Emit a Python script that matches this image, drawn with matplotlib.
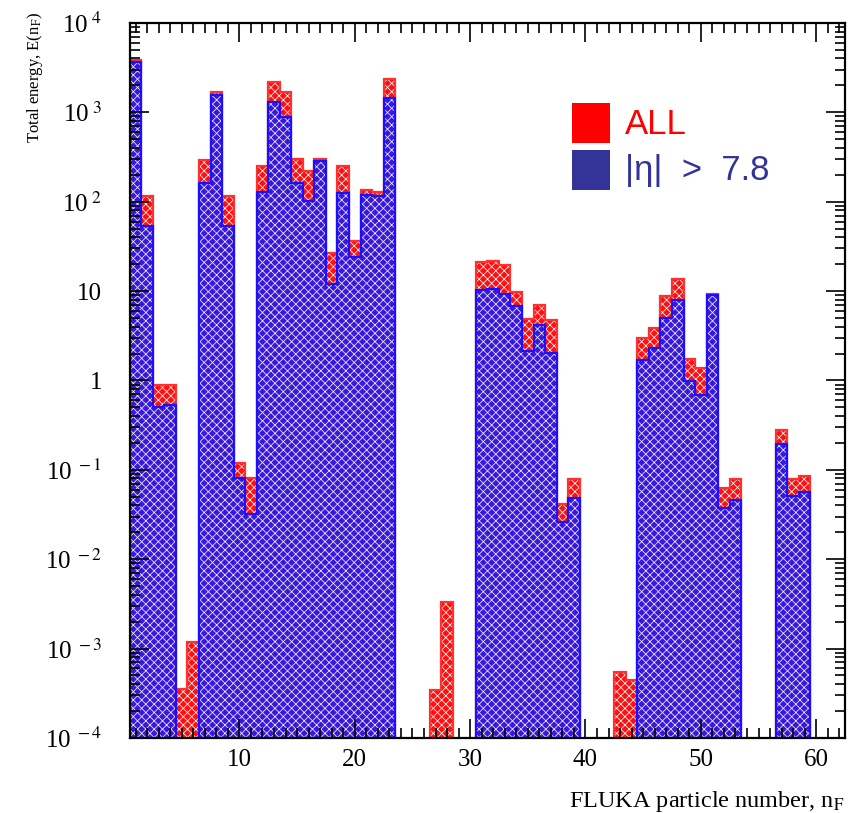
import numpy as np
import matplotlib.pyplot as plt
from matplotlib.patches import Rectangle
from matplotlib.ticker import FixedLocator, MultipleLocator, LogLocator, NullFormatter

plt.rcParams['hatch.linewidth'] = 0.55
plt.rcParams['mathtext.fontset'] = 'stix'

# FLUKA particle number, one bin per id (1..62)
n_f = np.arange(1, 63)

# total energy, all particles
e_all = np.array([
    3800, 115, 0.9, 0.9, 3.5e-4, 1.2e-3, 290, 1680, 115, 0.12,
    0.08, 250, 2170, 1680, 300, 220, 300, 26.7, 250, 36,
    136, 128, 2370, 0, 0, 0, 3.4e-4, 3.3e-3, 0, 0,
    20.9, 21.6, 19.5, 9.8, 4.9, 7.0, 4.8, 0.041, 0.078, 0,
    0, 0, 5.4e-4, 4.4e-4, 3.0, 3.9, 8.8, 13.5, 1.73, 1.39,
    9.2, 0.062, 0.078, 0, 0, 0, 0.277, 0.078, 0.085, 0,
    0, 0])

# total energy, |eta| > 7.8
e_eta = np.array([
    3700, 54, 0.5, 0.53, 0, 0, 160, 1570, 54, 0.08,
    0.032, 130, 1300, 875, 162, 103, 282, 12, 125, 24,
    120, 115, 1440, 0, 0, 0, 0, 0, 0, 0,
    10.2, 10.5, 9.2, 6.8, 2.14, 4.15, 2.05, 0.026, 0.048, 0,
    0, 0, 0, 0, 1.68, 2.33, 5.0, 7.9, 0.98, 0.68,
    9.0, 0.037, 0.046, 0, 0, 0, 0.193, 0.051, 0.057, 0,
    0, 0])

ytick_vals = [1e-4, 1e-3, 1e-2, 1e-1, 1, 10, 1e2, 1e3, 1e4]
ytick_labels = [r'10$^{\ -4}$', r'10$^{\ -3}$', r'10$^{\ -2}$', r'10$^{\ -1}$',
                '1', '10', r'10$^{\ 2}$', r'10$^{\ 3}$', r'10$^{\ 4}$']

fig = plt.figure(figsize=(8.54, 8.13), dpi=100)
ax = fig.add_axes([0.152, 0.0923, 0.8375, 0.8795])
ax.set_yscale('log', nonpositive='clip')

edges = np.append(n_f - 0.5, n_f[-1] + 0.5)
base = 1e-5

def draw_hist(vals, face, line, alpha):
    m = vals > 0
    ax.bar(n_f[m], vals[m] - base, width=1.0, bottom=base, facecolor=face,
           edgecolor='white', lw=0, hatch='xxxx', alpha=alpha)
    ax.stairs(np.where(m, vals, 1e-7), edges, color=line, lw=1.6, baseline=1e-7)

draw_hist(e_all, '#ff1010', '#ff3030', 1.0)
draw_hist(e_eta, '#2418f0', '#1a10ff', 0.9)

ax.set_xlim(0.5, 62.5)
ax.set_ylim(1e-4, 1e4)

ax.yaxis.set_major_locator(FixedLocator(ytick_vals))
ax.set_yticklabels(ytick_labels, family='Liberation Serif', fontsize=18)
ax.yaxis.set_minor_locator(LogLocator(base=10, subs=np.arange(2, 10), numticks=20))
ax.yaxis.set_minor_formatter(NullFormatter())
ax.xaxis.set_major_locator(MultipleLocator(10))
ax.xaxis.set_minor_locator(MultipleLocator(1))
for lab in ax.get_xticklabels():
    lab.set_family('Liberation Serif')
ax.tick_params(axis='x', labelsize=18, pad=8)
ax.tick_params(axis='y', pad=20)
ax.tick_params(which='both', direction='in', top=True, right=True, width=1.2)
ax.tick_params(which='major', length=14)
ax.tick_params(which='minor', length=7)
for s in ax.spines.values():
    s.set_linewidth(1.6)

ax.set_xlabel(r'FLUKA particle number, n$_{\mathrm{F}}$', family='Liberation Serif',
              fontsize=17.5)
ax.xaxis.set_label_coords(1.0, -0.072)
ax.xaxis.label.set_ha('right')
fig.text(0.041, 0.985, r'Total energy, E(n$_{\mathrm{F}}$)', rotation=90,
         ha='center', va='top', family='Liberation Serif', fontsize=12)

# legend
ax.add_patch(Rectangle((0.618, 0.832), 0.053, 0.056, transform=ax.transAxes,
                       facecolor='#ff0000', edgecolor='none', zorder=5))
ax.add_patch(Rectangle((0.618, 0.766), 0.053, 0.056, transform=ax.transAxes,
                       facecolor='#333399', edgecolor='none', zorder=5))
ax.text(0.692, 0.858, 'ALL', transform=ax.transAxes, color='#ff0000',
        family='Liberation Sans', fontsize=25, va='center', ha='left')
ax.text(0.692, 0.793, '|η|  >  7.8', transform=ax.transAxes, color='#333399',
        family='Liberation Sans', fontsize=25, va='center', ha='left')

fig.savefig('out.png', dpi=100)
